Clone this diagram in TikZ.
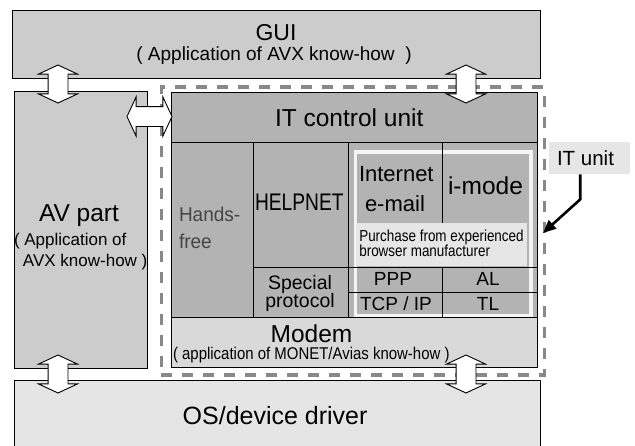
\documentclass[tikz,border=0pt]{standalone}
\usepackage{fontspec}
\setmainfont{Liberation Sans}
\usetikzlibrary{shapes.arrows,arrows.meta}
\definecolor{guigray}{HTML}{CCCCCC}
\definecolor{itgray}{HTML}{B3B3B3}
\definecolor{modemgray}{HTML}{D9D9D9}
\definecolor{osgray}{HTML}{E5E5E5}
\definecolor{lightband}{HTML}{E6E6E6}
\definecolor{dashgray}{HTML}{888888}
\definecolor{hftext}{HTML}{454545}
\definecolor{rimwhite}{HTML}{F4F4F4}
\newcommand{\fs}[1]{\fontsize{#1}{#1}\selectfont}
\newcommand{\sx}[2]{\scalebox{#1}[1]{#2}}
\begin{document}
\begin{tikzpicture}[x=1pt,y=-1pt,
 box/.style={draw=black, line width=0.9pt, anchor=north west, inner sep=0, outer sep=0},
 txt/.style={anchor=base west, inner sep=0, outer sep=0, text=black},
 ctxt/.style={anchor=base, inner sep=0, outer sep=0, text=black},
 dbl/.style={double arrow, draw=black, fill=white, line width=0.9pt, inner xsep=0pt, inner ysep=9.5pt,
   double arrow head extend=9.5pt, double arrow tip angle=130, minimum height=38}]
\useasboundingbox (0,0) rectangle (635,445);
\clip (0,0) rectangle (635,445);
% main boxes
\node[box, fill=guigray, minimum width=528, minimum height=68] (gui) at (12,10) {};
\node[box, fill=guigray, minimum width=133, minimum height=277] (av) at (14,91) {};
\node[box, fill=osgray, minimum width=526, minimum height=90] (os) at (14,380) {};
\node[box, fill=itgray, minimum width=366, minimum height=50] (itcu) at (171,92) {};
\node[box, fill=itgray, minimum width=82, minimum height=175] (hf) at (171,142) {};
\node[box, fill=itgray, minimum width=95, minimum height=125] (hn) at (253,142) {};
\node[box, fill=itgray, minimum width=95, minimum height=50] (sp) at (253,267) {};
\node[box, fill=itgray, minimum width=189, minimum height=125] (inet) at (348,142) {};
\node[box, fill=itgray, minimum width=94, minimum height=25] (ppp) at (348,267) {};
\node[box, fill=itgray, minimum width=95, minimum height=25] (al) at (442,267) {};
\node[box, fill=itgray, minimum width=94, minimum height=25] (tcp) at (348,292) {};
\node[box, fill=itgray, minimum width=95, minimum height=25] (tl) at (442,292) {};
\node[box, fill=modemgray, minimum width=366, minimum height=50] (modem) at (171,317) {};
% browser purchase frame
\node[draw=rimwhite, line width=3.5pt, anchor=north west, minimum width=175.5, minimum height=163.5, inner sep=0] (brw) at (353.5,150) {};
\node[fill=lightband, anchor=north west, minimum width=171.5, minimum height=42.5, inner sep=0] (band) at (355.5,223) {};
\draw[line width=0.9pt] (al.north west |- inet.north) -- (al.north west |- band.north);
\draw[line width=0.9pt] (ppp.north west) -- (al.north east);
\draw[line width=0.9pt] (tcp.north west) -- (tl.north east);
\draw[line width=0.9pt] (al.north west) -- (tl.south west);
% IT unit dashed frame
\node[draw=dashgray, line width=3.5pt, dash pattern=on 11pt off 10pt, anchor=north west, minimum width=383, minimum height=288, inner sep=0] (itbox) at (159.5,85) {};
% texts
\node[ctxt] (tgui) at (276,40) {\fs{23}GUI};
\node[ctxt] (tguisub) at (274,60) {\fs{19}( Application of AVX know-how \ )};
\node[txt] (titcu) at (275,126.5) {\fs{24.5}IT control unit};
\node[txt] (tav) at (39,221.7) {\fs{24.5}AV part};
\node[txt] (tav2) at (14,245.7) {\fs{17}( Application of};
\node[txt] (tav3) at (23,266.7) {\fs{17}AVX know-how )};
\node[txt, text=hftext] (thf1) at (179,221.7) {\fs{20}\sx{0.95}{Hands-}};
\node[txt, text=hftext] (thf2) at (179,248) {\fs{20}\sx{0.95}{free}};
\node[txt] (thn) at (255,210.7) {\fs{24}\sx{0.8}{HELPNET}};
\node[txt] (tin1) at (359,181.7) {\fs{22}Internet};
\node[txt] (tin2) at (365,211.7) {\fs{22}e-mail};
\node[txt] (tim) at (448,194.3) {\fs{24.5}i-mode};
\node[txt] (tpu1) at (359.3,241.7) {\fs{16}\sx{0.84}{Purchase from experienced}};
\node[txt] (tpu2) at (359.3,256.7) {\fs{16}\sx{0.84}{browser manufacturer}};
\node[ctxt] (tsp1) at (300,289.3) {\fs{19.5}Special};
\node[ctxt] (tsp2) at (300,307.5) {\fs{19.5}protocol};
\node[ctxt] (tppp) at (393,285) {\fs{19}PPP};
\node[ctxt] (tal) at (488,285) {\fs{19}AL};
\node[ctxt] (ttcp) at (396,310) {\fs{19}TCP / IP};
\node[ctxt] (ttl) at (488,310) {\fs{19}TL};
\node[txt] (tmo) at (270.7,342.7) {\fs{24.5}Modem};
\node[txt] (tmo2) at (173,359.5) {\fs{17}\sx{0.88}{( application of MONET/Avias know-how )}};
\node[txt] (tos) at (182.7,424) {\fs{25}OS/device driver};
% IT unit label and pointer
\node[fill=lightband, anchor=north west, minimum width=81, minimum height=32, inner sep=0] (itl) at (549,142) {};
\node[txt] (titl) at (557,165.7) {\fs{20.5}IT unit};
\coordinate (tip) at (543,233);
\draw[line width=2.6pt, -{Triangle[length=13pt,width=11pt]}] ([xshift=-9.5pt]itl.south) -- ++(0,25) -- (tip);
% block double arrows
\node[dbl, rotate=90] (a1) at (58,84) {};
\node[dbl, rotate=90] (a2) at (466,84) {};
\node[dbl, minimum height=45] (a3) at (149.5,116.5) {};
\node[dbl, rotate=90] (a4) at (58,374) {};
\node[dbl, rotate=90] (a5) at (466,374) {};
\end{tikzpicture}
\end{document}
